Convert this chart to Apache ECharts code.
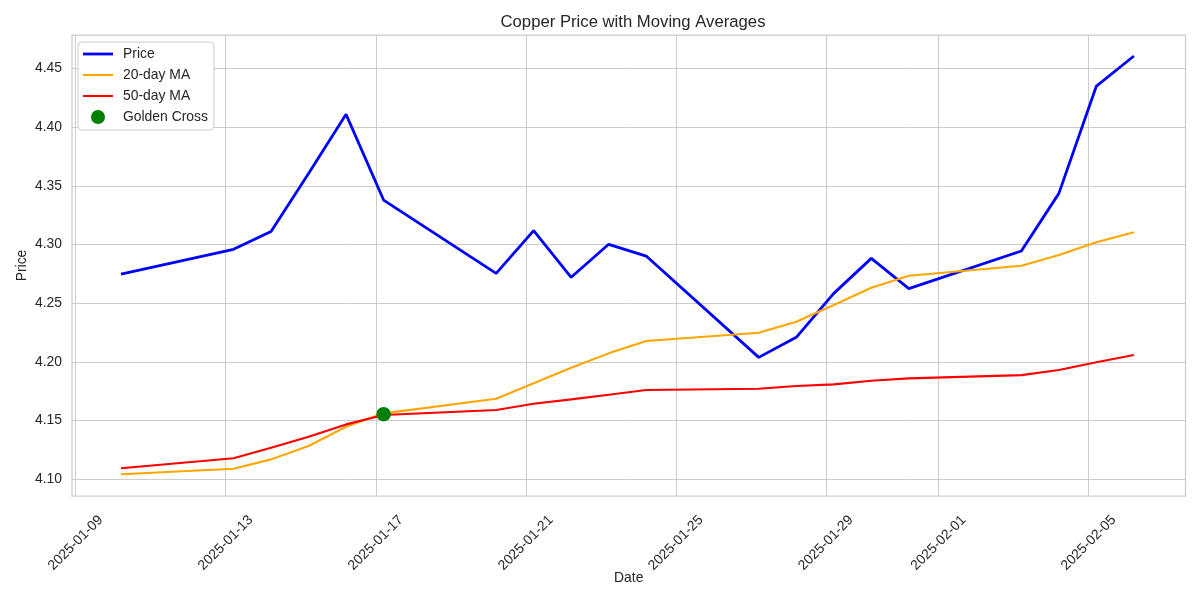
<!DOCTYPE html>
<html><head><meta charset="utf-8">
<script src="https://cdn.jsdelivr.net/npm/echarts@6/dist/echarts.min.js"></script>
<style>html,body{margin:0;padding:0;background:#fff}#c{width:1200px;height:600px}</style>
</head><body><div id="c"></div>
<script>
// ---- data ----
const dates = ['2025-01-10 05:00','2025-01-13 05:00','2025-01-14 05:00','2025-01-15 05:00','2025-01-16 05:00',
  '2025-01-17 05:00','2025-01-20 05:00','2025-01-21 05:00','2025-01-22 05:00','2025-01-23 05:00',
  '2025-01-24 05:00','2025-01-27 05:00','2025-01-28 05:00','2025-01-29 05:00','2025-01-30 05:00',
  '2025-01-31 05:00','2025-02-03 05:00','2025-02-04 05:00','2025-02-05 05:00','2025-02-06 05:00'];
const price = [4.2749,4.2959,4.3112,4.3606,4.4109,4.3379,4.2755,4.3118,4.2721,4.3002,
  4.2902,4.2039,4.2210,4.2584,4.2882,4.2624,4.2945,4.3436,4.4350,4.4606];
const ma20 = [4.1043,4.1090,4.1170,4.1284,4.1448,4.1562,4.1687,4.1818,4.1951,4.2073,
  4.2178,4.2249,4.2343,4.2485,4.2632,4.2734,4.2819,4.2911,4.3019,4.3104];
const ma50 = [4.1094,4.1179,4.1269,4.1363,4.1468,4.1548,4.1590,4.1644,4.1681,4.1721,
  4.1761,4.1772,4.1795,4.1809,4.1840,4.1860,4.1888,4.1931,4.1997,4.2059];
const crossDates = ['2025-01-17 05:00'];
const crossValues = [4.1555];
const xTicks = ['2025-01-09','2025-01-13','2025-01-17','2025-01-21','2025-01-25','2025-01-29','2025-02-01','2025-02-05'];
const yTicks = [4.10,4.15,4.20,4.25,4.30,4.35,4.40,4.45];
const xRange = ['2025-01-08 21:40','2025-02-07 14:00'];
const yRange = [4.0858,4.4785];

// ---- chart ----
const toMs = s => new Date(s.length <= 10 ? s + 'T00:00:00' : s.replace(' ', 'T') + ':00').getTime();
const pad2 = n => (n < 10 ? '0' : '') + n;
const fmtDate = v => { const d = new Date(v); return d.getFullYear() + '-' + pad2(d.getMonth() + 1) + '-' + pad2(d.getDate()); };
const FONT = "'Liberation Sans', Arial, sans-serif";
const TXT = '#262626';
const GRID = '#cccccc';
const pair = (xs, ys) => xs.map((d, i) => [toMs(d), ys[i]]);
const lineIcon = w => 'path://M0,0H30V' + w + 'H0Z';

const chart = echarts.init(document.getElementById('c'), null, {renderer: 'canvas'});
chart.setOption({
  backgroundColor: '#ffffff',
  animation: false,
  textStyle: {fontFamily: FONT, color: TXT},
  title: {
    text: 'Copper Price with Moving Averages',
    left: 628, top: 9, textAlign: 'center',
    textStyle: {fontFamily: FONT, fontSize: 16.7, fontWeight: 'normal', color: TXT}
  },
  grid: {left: 72, right: 14.5, top: 35, bottom: 104, show: true, borderColor: GRID, borderWidth: 1.25, containLabel: false},
  legend: {
    orient: 'vertical', left: 78, top: 42,
    padding: [5, 6, 6, 5],
    itemWidth: 30, itemHeight: 14, itemGap: 7,
    symbolKeepAspect: true,
    backgroundColor: '#ffffff', borderColor: GRID, borderWidth: 1, borderRadius: 4,
    textStyle: {fontFamily: FONT, fontSize: 13.9, color: TXT, padding: [0, 0, 0, 5]},
    data: [
      {name: 'Price', icon: lineIcon(2.8)},
      {name: '20-day MA', icon: lineIcon(2.1)},
      {name: '50-day MA', icon: lineIcon(2.1)},
      {name: 'Golden Cross', icon: 'circle'}
    ]
  },
  xAxis: {
    type: 'value',
    min: toMs(xRange[0]), max: toMs(xRange[1]),
    name: 'Date', nameLocation: 'middle', nameGap: 75, nameMoveOverlap: false,
    nameTextStyle: {fontFamily: FONT, fontSize: 13.9, color: TXT},
    axisLine: {show: false},
    axisTick: {show: false, customValues: xTicks.map(toMs)},
    splitLine: {show: true, lineStyle: {color: GRID, width: 1}},
    axisLabel: {
      customValues: xTicks.map(toMs),
      rotate: 45, align: 'center', verticalAlign: 'middle', margin: 47,
      fontFamily: FONT, fontSize: 13.9, color: TXT,
      formatter: v => fmtDate(v)
    }
  },
  yAxis: {
    type: 'value',
    min: yRange[0], max: yRange[1],
    name: 'Price', nameLocation: 'middle', nameGap: 43, nameRotate: 90, nameMoveOverlap: false,
    nameTextStyle: {fontFamily: FONT, fontSize: 13.9, color: TXT},
    axisLine: {show: false},
    axisTick: {show: false, customValues: yTicks},
    splitLine: {show: true, lineStyle: {color: GRID, width: 1}},
    axisLabel: {
      customValues: yTicks, margin: 10,
      fontFamily: FONT, fontSize: 13.9, color: TXT,
      formatter: v => v.toFixed(2)
    }
  },
  series: [
    {name: 'Price', type: 'line', data: pair(dates, price), symbol: 'none',
      lineStyle: {color: '#0000ff', width: 2.8}, itemStyle: {color: '#0000ff'}, z: 3},
    {name: '20-day MA', type: 'line', data: pair(dates, ma20), symbol: 'none',
      lineStyle: {color: '#ffa500', width: 2.1}, itemStyle: {color: '#ffa500'}, z: 3},
    {name: '50-day MA', type: 'line', data: pair(dates, ma50), symbol: 'none',
      lineStyle: {color: '#ff0000', width: 2.1}, itemStyle: {color: '#ff0000'}, z: 3},
    {name: 'Golden Cross', type: 'scatter', data: pair(crossDates, crossValues), symbol: 'circle', symbolSize: 14.5,
      itemStyle: {color: '#008000', opacity: 1}, z: 4}
  ]
});
</script>
</body></html>
